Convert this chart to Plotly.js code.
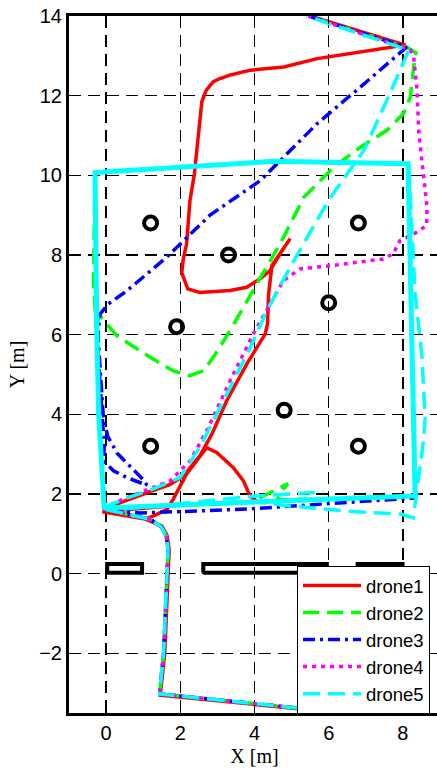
<!DOCTYPE html>
<html><head><meta charset="utf-8">
<script src="https://cdn.plot.ly/plotly-3.0.1.min.js"></script>
<style>html,body{margin:0;padding:0;overflow:hidden;background:#fff}#plot{width:445px;height:768px}</style>
</head><body><div id="plot"></div>
<script>
// ---- shared segments ----
const entryX = [7.2, 1.44, 1.55, 1.64, 1.67, 1.62, 1.48, 1.2, 0.6, -0.05];
const entryY = [-3.57, -3.02, -2.0, 0.0, 0.6, 0.95, 1.18, 1.36, 1.48, 1.62];
const loopX = [-0.05, -0.2, -0.25, -0.3, 4.52, 6.59, 8.14, 8.33, 4.0, -0.07];
const loopY = [1.62, 4.0, 6.0, 10.07, 10.35, 10.31, 10.29, 1.95, 1.8, 1.65];

// ---- drone1 (red) ----
const d1X = [7.2, 1.46, 1.58, 1.68, 1.7, 1.64, 1.5, 1.05, -0.1,
  2.0, 4.06, 3.88, 3.7, 3.43, 2.98, 2.71, 2.17, 1.81, 1.64, 1.28, 1.05, -0.07,
  0.3, 1.1, 1.73, 2.08, 2.53, 2.85, 3.25, 3.79, 4.29, 4.35, 4.38, 4.47, 4.96,
  4.69, 4.42, 4.15, 3.79, 3.34, 2.53, 2.2, 2.04, 2.08, 2.17, 2.26, 2.38, 2.46, 2.54, 2.58, 2.7, 2.89, 3.07,
  3.35, 3.89, 4.79, 5.69, 6.58, 7.48, 8.07, 5.5];
const d1Y = [-3.58, -3.05, -2.0, 0.0, 0.6, 0.97, 1.2, 1.37, 1.55,
  1.72, 1.82, 1.95, 2.33, 2.66, 3.04, 3.16, 2.5, 1.87, 1.61, 1.45, 1.37, 1.57,
  1.75, 2.03, 2.24, 2.45, 2.96, 3.5, 4.34, 5.26, 6.02, 6.27, 7.02, 7.74, 8.41,
  8.03, 7.61, 7.4, 7.19, 7.11, 7.06, 7.15, 7.55, 7.9, 8.28, 9.37, 10.04, 10.8, 11.6, 11.85, 12.14, 12.35, 12.43,
  12.52, 12.64, 12.72, 12.93, 13.06, 13.19, 13.27, 14.0];

// ---- drone2 (green) ----
const d2X = [3.93, 4.9, 4.72, 4.6, 8.33, 8.14, 4.52, -0.3, -0.34, -0.25, -0.2,
  0.29, 1.19, 1.81, 2.26, 2.62, 2.89, 3.34, 4.06, 4.69, 5.33, 6.14, 6.86, 7.57, 8.02, 8.2, 8.29, 8.35, 8.1, 5.45];
const d2Y = [1.8, 2.26, 2.05, 1.85, 1.95, 10.29, 10.35, 10.07, 7.3, 6.0, 6.5,
  5.97, 5.43, 5.09, 4.97, 5.09, 5.43, 6.1, 7.27, 8.28, 9.45, 10.21, 10.71, 11.13, 11.55, 11.97, 12.72, 13.08, 13.22, 14.0];

// ---- drone3 (blue) ----
const d3X = [0.9, 3.8, 8.33, 8.14, 4.52, -0.3, -0.25, -0.1, -0.05, -0.07,
  0.2, 0.56, 1.1, 1.0, 0.74, 0.3, 0.04, -0.08, -0.22, -0.16,
  0.06, 0.56, 1.64, 2.8, 4.16, 5.69, 6.86, 7.98, 8.1, 5.45];
const d3Y = [1.52, 1.62, 1.9, 10.29, 10.35, 10.07, 6.0, 4.0, 3.2, 2.83,
  2.58, 2.41, 2.22, 2.36, 2.6, 3.02, 3.45, 4.0, 6.0, 6.52,
  6.77, 7.1, 7.95, 9.0, 9.87, 11.3, 12.22, 13.14, 13.22, 14.0];

// ---- drone4 (magenta) ----
const d4X = [0.47, 0.92, 1.73, 2.26, 2.71, 3.07, 3.34, 3.97, 4.51, 4.78, 5.23, 6.13, 7.47, 7.74,
  7.92, 8.37, 8.64, 8.65, 8.56, 8.43, 8.38, 8.29, 8.2, 5.45];
const d4Y = [1.87, 2.03, 2.33, 2.83, 3.58, 4.3, 4.84, 6.02, 6.94, 7.36, 7.65, 7.74, 7.9, 8.03,
  8.36, 8.57, 8.74, 9.2, 9.96, 11.05, 12.14, 12.98, 13.15, 14.0];

// ---- drone5 (cyan) ----
const d5X = [0.47, 4.06, 5.86, null, 8.16, 8.2, 8.33, 8.51, 8.6, 8.55, 8.28, 7.97, 6.49, 4.91, 3.88, null,
  -0.07, 0.47, 1.2, 1.99, 2.53, 2.98, 3.43, 3.9, 4.33, 4.96, 5.99, 6.95, 7.57, 8.16, 5.4];
const d5Y = [1.62, 1.95, 2.05, null, 10.2, 9.4, 7.0, 5.5, 3.9, 3.3, 1.4, 1.49, 1.57, 1.7, 1.82, null,
  1.65, 1.87, 2.1, 2.41, 3.17, 4.0, 4.84, 5.7, 6.6, 7.69, 9.37, 10.63, 11.89, 13.14, 14.0];

// ---- obstacles and walls ----
const obsX = [1.2, 3.3, 6.8, 1.9, 6.0, 4.8, 1.2, 6.8];
const obsY = [8.8, 8.0, 8.8, 6.2, 6.8, 4.1, 3.2, 3.2];
const wallX0 = [0.03, 2.62, 6.78];
const wallX1 = [0.97, 5.95, 7.99];
const wallY0 = [0.02, 0.02, 0.02];
const wallY1 = [0.24, 0.24, 0.24];

const xTicks = [0, 2, 4, 6, 8];
const yTicks = [-2, 0, 2, 4, 6, 8, 10, 12, 14];

const names = ['drone1', 'drone2', 'drone3', 'drone4', 'drone5'];
const colors = ['#ff0000', '#00ff00', '#0000ff', '#ff00ff', '#00ffff'];
const dashes = ['solid', '16px,8px', '12px,5px,3px,5px', '4px,5px', '17px,8px'];

// assemble paths
const p1x = d1X, p1y = d1Y;
const p2x = entryX.concat(d2X), p2y = entryY.concat(d2Y);
const p3x = entryX.concat(d3X), p3y = entryY.concat(d3Y);
const p4x = entryX.concat(loopX, d4X), p4y = entryY.concat(loopY, d4Y);
const p5x = entryX.concat([null], d5X), p5y = entryY.concat([null], d5Y);
const paths = [[p1x, p1y], [p2x, p2y], [p3x, p3y], [p4x, p4y]];

const traces = [];
paths.forEach((p, i) => {
  traces.push({x: p[0], y: p[1], mode: 'lines', name: names[i],
    line: {color: colors[i], width: 3.5, dash: dashes[i]}});
});
// drone5 square loop (overlapping passes -> solid)
traces.push({x: loopX, y: loopY, mode: 'lines', showlegend: false, hoverinfo: 'skip',
  line: {color: colors[4], width: 5}});
traces.push({x: p5x, y: p5y, mode: 'lines', name: names[4],
  line: {color: colors[4], width: 3.5, dash: dashes[4]}});

// walls as closed outlines
const wx = [], wy = [];
for (let i = 0; i < wallX0.length; i++) {
  wx.push(wallX0[i], wallX1[i], wallX1[i], wallX0[i], wallX0[i], null);
  wy.push(wallY0[i], wallY0[i], wallY1[i], wallY1[i], wallY0[i], null);
}
traces.push({x: wx, y: wy, mode: 'lines', showlegend: false, line: {color: '#000', width: 4}});
traces.push({x: obsX, y: obsY, mode: 'markers', showlegend: false,
  marker: {symbol: 'circle-open', size: 13, color: '#000', line: {width: 4, color: '#000'}}});

const axisCommon = {
  showline: true, linewidth: 3, linecolor: '#000', mirror: 'allticks',
  ticks: 'inside', ticklen: 8, tickwidth: 1.5, tickcolor: '#000',
  showgrid: true, gridcolor: '#000', gridwidth: 1.5, griddash: '12px,7px',
  zeroline: false, tickfont: {size: 20, color: '#000'}
};
const layout = {
  width: 445, height: 768,
  margin: {l: 69, r: 5, t: 16, b: 55},
  paper_bgcolor: '#fff', plot_bgcolor: '#fff',
  font: {family: 'Liberation Sans, Arial, sans-serif', size: 20, color: '#000'},
  xaxis: Object.assign({}, axisCommon, {range: [-1, 9], tickvals: xTicks,
    title: {text: 'X [m]', standoff: 6, font: {family: 'Liberation Serif, Times New Roman, serif', size: 20}}}),
  yaxis: Object.assign({}, axisCommon, {range: [-3.5, 14], tickvals: yTicks,
    title: {text: 'Y [m]', standoff: 10, font: {family: 'Liberation Serif, Times New Roman, serif', size: 20}}}),
  showlegend: true,
  legend: {x: 0.973, xanchor: 'right', y: 0.211, yanchor: 'top', bgcolor: '#fff',
    bordercolor: '#000', borderwidth: 1, font: {size: 18.5, color: '#000'}, itemwidth: 58}
};
Plotly.newPlot('plot', traces, layout, {staticPlot: true, displayModeBar: false});
</script></body></html>
